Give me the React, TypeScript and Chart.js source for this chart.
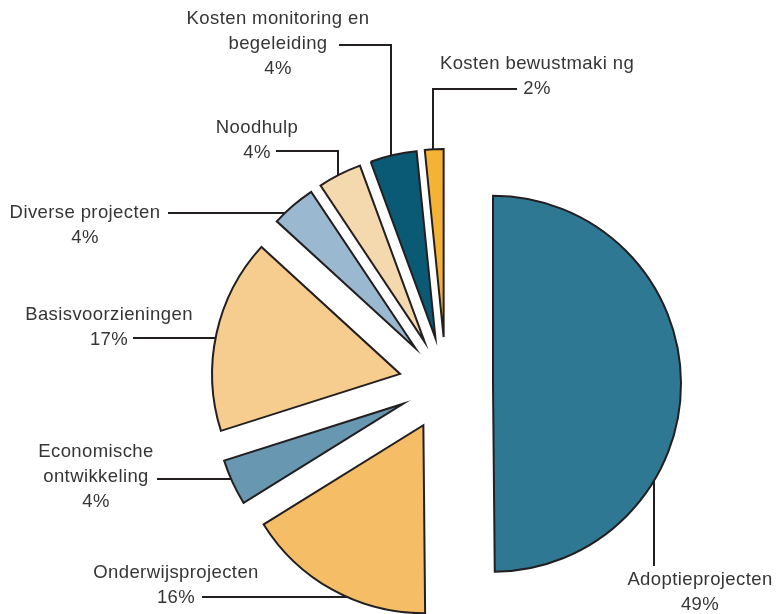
import React, { useEffect, useRef } from 'react';
import { Chart, registerables } from 'chart.js';

Chart.register(...registerables);

// ---------- data ----------
const categories: string[][] = [
  ['Adoptieprojecten'],
  ['Onderwijsprojecten'],
  ['Economische', 'ontwikkeling'],
  ['Basisvoorzieningen'],
  ['Diverse projecten'],
  ['Noodhulp'],
  ['Kosten monitoring en', 'begeleiding'],
  ['Kosten bewustmaki ng'],
];
// slice sizes (percent)
const shares: number[] = [49.85, 16.3, 3.95, 16.7, 3.85, 3.75, 4.0, 1.6];
// percentages as printed in the labels
const percentLabels: number[] = [49, 16, 4, 17, 4, 4, 4, 2];

// ---------- styles ----------
const colors: string[] = ['#2e7893', '#f4bd66', '#6898b1', '#f6cd8e', '#9ab8cf', '#f5d9ae', '#0a5a75', '#f5b335'];
const BORDER = '#231f20';
const TEXT = '#353535';
const FONT_SIZE = 18.5;
const LINE_H = 25;
const EXPLODE = 47;
const RADIUS = 188;

// ---------- label layout (text block centre x, first line y) ----------
const labelPos = [
  { x: 700, y: 580 },
  { x: 176, y: 573 },
  { x: 96, y: 452 },
  { x: 109, y: 315 },
  { x: 85, y: 213 },
  { x: 257, y: 128 },
  { x: 278, y: 19 },
  { x: 537, y: 64 },
];
// leader lines: start point near the text; 'h' runs horizontally to the slice,
// 'v' vertically, 'hv' horizontally to ex then vertically to the slice
const leaders: { sx: number; sy: number; dir: string; ex?: number }[] = [
  { sx: 654, sy: 566, dir: 'v' },
  { sx: 202, sy: 597, dir: 'h' },
  { sx: 157, sy: 479, dir: 'h' },
  { sx: 133, sy: 338, dir: 'h' },
  { sx: 168, sy: 213, dir: 'h' },
  { sx: 276, sy: 151, dir: 'hv', ex: 338 },
  { sx: 339, sy: 45, dir: 'hv', ex: 391 },
  { sx: 517, sy: 89, dir: 'hv', ex: 433 },
];

const explodePlugin = {
  id: 'explodeSlices',
  afterDatasetUpdate(chart: any, args: any) {
    const meta = chart.getDatasetMeta(args.index);
    meta.data.forEach((arc: any) => {
      const mid = (arc.startAngle + arc.endAngle) / 2;
      arc.x += Math.cos(mid) * EXPLODE;
      arc.y += Math.sin(mid) * EXPLODE;
    });
  },
};

function nearestRoot(a: number, b: number, target: number) {
  return Math.abs(a - target) < Math.abs(b - target) ? a : b;
}

const labelPlugin = {
  id: 'pieLabels',
  afterDatasetsDraw(chart: any) {
    const ctx: CanvasRenderingContext2D = chart.ctx;
    const arcs = chart.getDatasetMeta(0).data;
    ctx.save();
    // leader lines
    ctx.strokeStyle = BORDER;
    ctx.lineWidth = 2;
    ctx.lineCap = 'butt';
    ctx.lineJoin = 'miter';
    leaders.forEach((l, i) => {
      const arc = arcs[i];
      if (!arc) return;
      const cx = arc.x, cy = arc.y, R = arc.outerRadius;
      ctx.beginPath();
      ctx.moveTo(l.sx, l.sy);
      if (l.dir === 'h') {
        const d = Math.sqrt(Math.max(R * R - (l.sy - cy) ** 2, 0));
        const x = nearestRoot(cx - d, cx + d, l.sx);
        ctx.lineTo(x, l.sy);
      } else if (l.dir === 'v') {
        const d = Math.sqrt(Math.max(R * R - (l.sx - cx) ** 2, 0));
        const y = nearestRoot(cy - d, cy + d, l.sy);
        ctx.lineTo(l.sx, y);
      } else {
        const ex = l.ex as number;
        ctx.lineTo(ex, l.sy);
        const d = Math.sqrt(Math.max(R * R - (ex - cx) ** 2, 0));
        const y = nearestRoot(cy - d, cy + d, l.sy);
        ctx.lineTo(ex, y);
      }
      ctx.stroke();
    });
    // texts
    ctx.font = `${FONT_SIZE}px "Liberation Sans", Arial, sans-serif`;
    (ctx as any).letterSpacing = '0.4px';
    ctx.fillStyle = TEXT;
    ctx.textAlign = 'center';
    ctx.textBaseline = 'middle';
    categories.forEach((lines, i) => {
      const p = labelPos[i];
      const all = [...lines, `${percentLabels[i]}%`];
      all.forEach((t, k) => ctx.fillText(t, p.x, p.y + k * LINE_H));
    });
    ctx.restore();
  },
};

export default function App() {
  const ref = useRef<HTMLCanvasElement | null>(null);
  useEffect(() => {
    if (!ref.current) return;
    const chart = new Chart(ref.current, {
      type: 'pie',
      data: {
        labels: categories,
        datasets: [
          {
            data: shares,
            backgroundColor: colors,
            borderColor: BORDER,
            borderWidth: 2,
            borderJoinStyle: 'miter',
            radius: RADIUS,
            offset: 0,
            hoverOffset: 0,
          } as any,
        ],
      },
      options: {
        responsive: false,
        animation: false,
        devicePixelRatio: 1,
        events: [],
        layout: { padding: { left: 114, top: 154, right: 0, bottom: 0 } },
        plugins: {
          legend: { display: false },
          tooltip: { enabled: false },
          title: { display: false },
        },
      },
      plugins: [explodePlugin, labelPlugin],
    });
    return () => chart.destroy();
  }, []);
  return (
    <div style={{ position: 'absolute', left: 0, top: 0, width: 778, height: 614, background: '#fff' }}>
      <canvas ref={ref} width={778} height={614} style={{ display: 'block' }} />
    </div>
  );
}
